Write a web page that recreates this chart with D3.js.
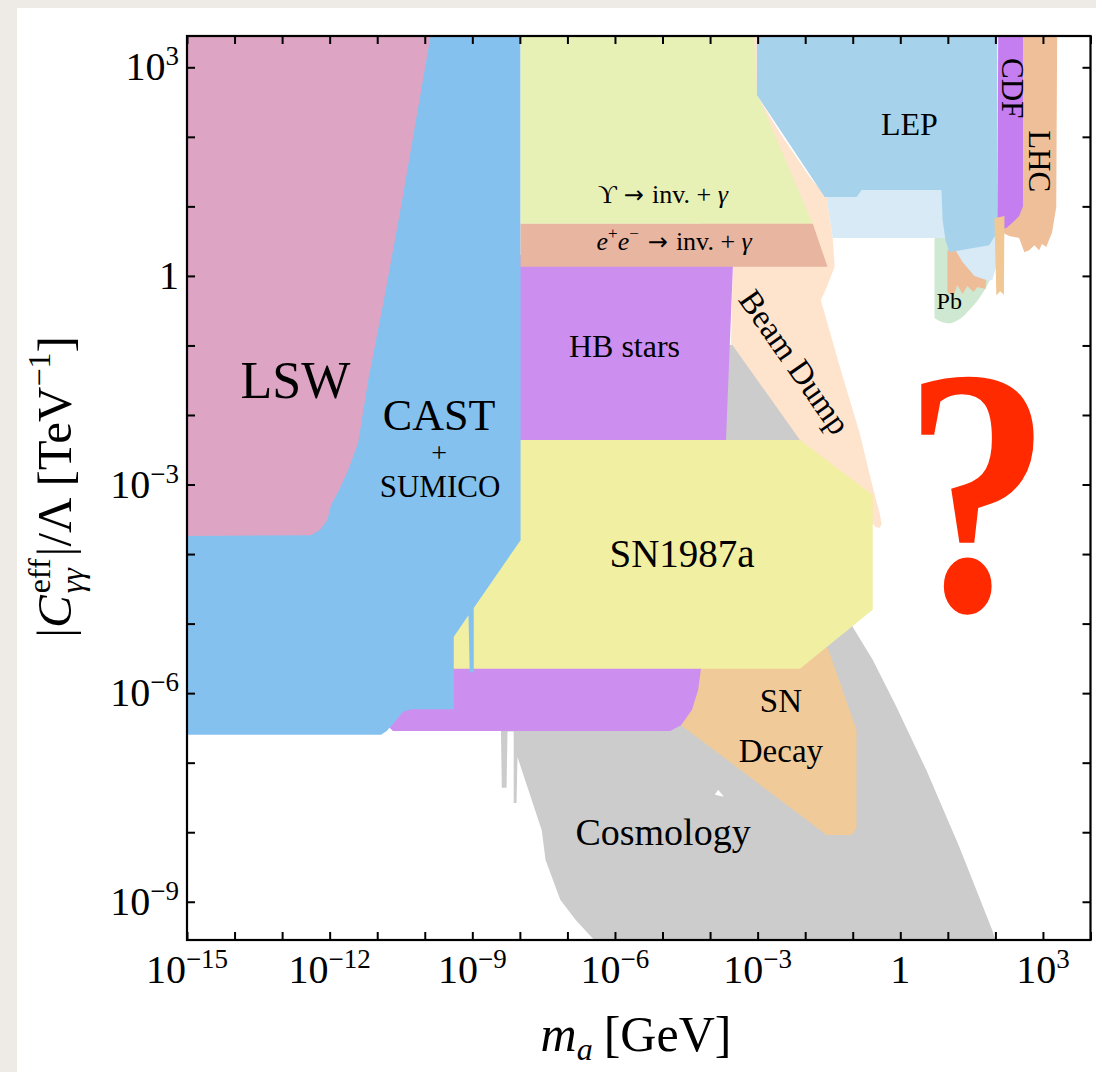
<!DOCTYPE html>
<html>
<head>
<meta charset="utf-8">
<script src="https://cdn.jsdelivr.net/npm/d3@7"></script>
<style>
  html, body { margin: 0; padding: 0; background: #eeebe6; }
  svg { display: block; }
  text { white-space: pre; }
</style>
</head>
<body>
<svg id="chart" width="1096" height="1072"></svg>
<script>
// ── Data (log10 m_a [GeV], log10 |C|/Λ [TeV^-1]) ─────────────

const xDecades = d3.range(-15, 5);          // tick every decade
const yDecades = d3.range(-9, 4);
const xLabelExps = [-15, -12, -9, -6, -3, 0, 3];
const yLabelExps = [3, 0, -3, -6, -9];

const lsw = [[-15.2,3.6],[-9.84,3.6],[-10.50,0.99],[-10.86,-0.35],[-11.19,-1.50],[-11.30,-1.97],
  [-11.40,-2.40],[-11.61,-2.79],[-11.80,-3.08],[-11.97,-3.29],[-12.05,-3.51],[-12.20,-3.65],
  [-12.39,-3.73],[-15.2,-3.74]];

const cast = [[-15.2,3.6],[-7.985,3.6],[-7.985,-3.80],[-8.97,-4.775],[-8.97,-5.70],[-9.055,-5.70],
  [-9.08,-4.88],[-9.39,-5.19],[-9.39,-6.23],[-10.29,-6.23],[-10.46,-6.27],[-10.65,-6.43],
  [-10.80,-6.544],[-10.92,-6.60],[-15.2,-6.60]];

const hbStars = [[-10.75,0.3],[-3.50,0.3],[-3.52,0.13],[-3.665,-2.36],[-4.19,-5.64],[-4.25,-5.95],
  [-4.38,-6.24],[-4.61,-6.46],[-4.84,-6.544],[-10.67,-6.544],[-10.75,-6.49]];

const sn1987a = [[-9.6,-2.36],[-2.11,-2.36],[-0.58,-3.15],[-0.58,-4.80],[-2.11,-5.65],[-9.6,-5.65]];

const snDecay = [[-4.42,-5.52],[-1.59,-5.31],[-1.51,-5.38],[-0.92,-6.53],[-0.92,-7.94],[-1.02,-8.04],
  [-1.55,-8.04],[-4.61,-6.46]];

const cosmology = [[-3.90,-0.99],[-2.11,-0.99],[-1.17,-2.79],[-1.06,-4.66],[-1.00,-5.05],[-0.58,-5.52],
  [-0.10,-6.17],[0.55,-7.11],[1.24,-8.21],[1.935,-9.41],[2.02,-9.6],[-6.37,-9.6],[-6.83,-9.26],
  [-7.15,-8.97],[-7.46,-8.40],[-7.54,-7.97],[-8.05,-6.92],[-8.07,-7.58],[-8.13,-7.58],[-8.13,-6.55],
  [-8.26,-6.55],[-8.28,-7.36],[-8.38,-7.36],[-8.40,-6.46]];
const cosmologyGap = [[-3.83,-7.39],[-3.71,-7.49],[-3.90,-7.46]];

const beamDump = [[-4.21,3.6],[-3.015,3.6],[-3.015,2.60],[-2.53,2.055],[-1.90,1.42],[-1.55,1.135],
  [-1.42,0.545],[-1.38,0.13],[-1.57,-0.20],[-1.67,-0.35],[-1.27,-1.31],[-0.855,-2.26],[-0.58,-3.035],
  [-0.435,-3.41],[-0.39,-3.57],[-0.435,-3.625],[-0.52,-3.61],[-0.645,-3.51],[-2.11,-2.36],
  [-3.56,-0.965],[-3.52,0.13],[-4.21,0.13]];

const upsilon = [[-7.985,3.6],[-3.09,3.6],[-3.08,3.45],[-3.015,2.63],[-1.84,0.75],[-7.985,0.75]];
const eeInv = [[-7.985,0.75],[-1.84,0.75],[-1.53,0.13],[-7.985,0.13]];

const pbBound = [[0.72,0.56],[0.72,-0.605],[0.80,-0.64],[0.89,-0.665],[0.98,-0.68],[1.075,-0.68],
  [1.18,-0.65],[1.285,-0.605],[1.37,-0.55],[1.45,-0.49],[1.56,-0.41],[1.66,-0.32],[1.74,-0.24],
  [1.81,-0.16],[1.90,-0.04],[1.98,0.085],[2.04,0.56]];
const lepLight = [[-1.55,1.31],[2.04,1.31],[2.04,0.20],[1.935,-0.06],[1.14,-0.13],[0.99,0.545],
  [-1.42,0.545],[-1.55,1.135]];
const lepLowOrange = [[0.99,0.37],[1.16,0.37],[1.31,0.20],[1.56,0.0],[1.81,-0.06],[1.79,-0.19],
  [1.62,-0.16],[1.54,-0.23],[1.41,-0.145],[1.31,-0.26],[1.20,-0.13],[1.12,-0.29],[0.99,-0.23]];
const lep = [[-3.015,3.6],[2.04,3.6],[2.04,0.63],[1.87,0.44],[1.03,0.34],[0.95,0.52],[0.89,0.80],
  [0.865,1.235],[-0.81,1.235],[-0.92,1.135],[-1.59,1.135],[-3.015,2.60]];
const lhc = [[2.50,3.6],[3.30,3.6],[3.28,0.99],[3.19,0.62],[3.13,0.52],[3.07,0.415],[2.98,0.46],
  [2.92,0.37],[2.82,0.44],[2.71,0.37],[2.61,0.34],[2.50,0.545],[2.29,0.575],[2.15,0.62],[2.08,0.73]];
const cdf = [[2.06,3.6],[2.58,3.6],[2.58,1.0],[2.50,0.86],[2.35,0.76],[2.25,0.70],[2.04,0.63]];
const thinStrip = [[1.98,0.83],[2.19,0.86],[2.18,-0.27],[2.10,-0.22],[2.02,-0.28]];

// ── Setup ─────────────────────────────────────────────

const W = 1096, H = 1072;
const plot = { left: 187, right: 1090.5, top: 36, bottom: 940 };
const SERIF = '"Liberation Serif", "Times New Roman", "DejaVu Serif", serif';
const ARROW_FONT = '"DejaVu Sans", sans-serif';

const x = d3.scaleLog().domain([1e-15, 1e4]).range([plot.left, plot.right]);
const y = d3.scaleLog().domain([10 ** -9.55, 10 ** 3.45]).range([plot.bottom, plot.top]);

const svg = d3.select('#chart').attr('font-family', SERIF);

// Paper + white sheet
svg.append('rect').attr('width', W).attr('height', H).attr('fill', '#eeebe6');
svg.append('rect').attr('x', 17).attr('y', 8).attr('width', W - 17).attr('height', H - 8).attr('fill', '#fff');

svg.append('defs').append('clipPath').attr('id', 'plot-clip')
  .append('rect')
  .attr('x', plot.left).attr('y', plot.top)
  .attr('width', plot.right - plot.left).attr('height', plot.bottom - plot.top);

// ── Regions ─────────────────────────────────────────────

const line = d3.line().x(d => x(10 ** d[0])).y(d => y(10 ** d[1]));

const regions = [
  { pts: cosmology,    fill: '#cccccc' },
  { pts: cosmologyGap, fill: '#ffffff' },
  { pts: beamDump,     fill: '#fee4cd' },
  { pts: snDecay,      fill: '#f0ca98' },
  { pts: hbStars,      fill: '#cc8ff0' },
  { pts: sn1987a,      fill: '#f1efa2' },
  { pts: cast,         fill: '#85c1ef' },
  { pts: lsw,          fill: '#dda5c3' },
  { pts: upsilon,      fill: '#e7f1b5' },
  { pts: eeInv,        fill: '#e8b5a0' },
  { pts: pbBound,      fill: '#cfe8d1' },
  { pts: lepLight,     fill: '#d7eaf6' },
  { pts: lepLowOrange, fill: '#eebd98' },
  { pts: lep,          fill: '#a6d3eb' },
  { pts: lhc,          fill: '#efbf99' },
  { pts: cdf,          fill: '#c57ef0' },
  { pts: thinStrip,    fill: '#f1c893' },
];

const regionLayer = svg.append('g').attr('clip-path', 'url(#plot-clip)');
regions.forEach(r => {
  regionLayer.append('path')
    .attr('d', line(r.pts) + 'Z')
    .attr('fill', r.fill);
});

// ── Rich text helper (sub/superscripts) ─────────────────

function richText(parent, parts, anchor) {
  const g = parent.append('g');
  let cx = 0, held = 0;
  parts.forEach(p => {
    const t = g.append('text')
      .attr('x', cx)
      .attr('y', p.dy || 0)
      .attr('font-size', p.size)
      .attr('font-family', p.family || null)
      .attr('font-style', p.italic ? 'italic' : null)
      .attr('fill', p.fill || '#000')
      .text(p.text);
    const w = t.node().getComputedTextLength();
    if (p.hold) { held = w; return; }
    cx += Math.max(w, held) + (p.gap || 0);
    held = 0;
  });
  const shift = anchor === 'end' ? -cx : anchor === 'middle' ? -cx / 2 : 0;
  g.attr('transform', `translate(${shift},0)`);
  return g;
}

function placeLabel(at, parts, opts = {}) {
  const g = svg.append('g')
    .attr('transform', `translate(${x(10 ** at[0])},${y(10 ** at[1])}) rotate(${opts.rotate || 0})`);
  richText(g, parts, opts.anchor || 'middle');
  return g;
}

// ── Region labels ───────────────────────────────────────

placeLabel([-12.72, -1.76], [{ text: 'LSW', size: 52 }]);
placeLabel([-9.70, -2.22],  [{ text: 'CAST', size: 44 }]);
placeLabel([-9.70, -2.68],  [{ text: '+', size: 28 }]);
placeLabel([-9.68, -3.18],  [{ text: 'SUMICO', size: 31 }]);
placeLabel([-4.99, 1.05], [
  { text: 'ϒ', size: 26, gap: 7 },
  { text: '→', size: 24, family: ARROW_FONT, gap: 8 },
  { text: 'inv. + ', size: 26 }, { text: 'γ', size: 26, italic: true }
]);
placeLabel([-4.755, 0.37], [
  { text: 'e', size: 26, italic: true }, { text: '+', size: 17, dy: -11 },
  { text: 'e', size: 26, italic: true }, { text: '−', size: 17, dy: -11, gap: 9 },
  { text: '→', size: 24, family: ARROW_FONT, gap: 8 },
  { text: 'inv. + ', size: 26 }, { text: 'γ', size: 26, italic: true }
]);
placeLabel([-5.80, -1.17], [{ text: 'HB stars', size: 32 }]);
placeLabel([-2.22, -1.24], [{ text: 'Beam Dump', size: 33, dy: 11 }], { rotate: 55 });
placeLabel([-4.59, -4.19], [{ text: 'SN1987a', size: 39 }]);
placeLabel([-2.51, -6.27], [{ text: 'SN', size: 33 }]);
placeLabel([-2.51, -6.99], [{ text: 'Decay', size: 33 }]);
placeLabel([-4.99, -8.18], [{ text: 'Cosmology', size: 38 }]);
placeLabel([0.19, 2.03],  [{ text: 'LEP', size: 32 }]);
placeLabel([2.35, 2.70],  [{ text: 'CDF', size: 31, dy: 10 }], { rotate: 90 });
placeLabel([2.92, 1.65],  [{ text: 'LHC', size: 31, dy: 10 }], { rotate: 90 });
placeLabel([1.03, -0.47], [{ text: 'Pb', size: 24 }]);

// Big question mark
svg.append('text')
  .attr('transform', `translate(${x(10 ** 1.62)},${y(10 ** -4.80)}) scale(0.84,1)`)
  .attr('text-anchor', 'middle')
  .attr('font-family', '"Liberation Serif", "Times New Roman", serif')
  .attr('font-weight', 'bold')
  .attr('font-size', 352)
  .attr('fill', '#ff2a00')
  .text('?');

// ── Frame & ticks ───────────────────────────────────────

const styleAxis = g => {
  g.select('.domain').remove();
  g.selectAll('line').attr('stroke', '#000').attr('stroke-width', 2);
};
const xt = xDecades.map(e => 10 ** e);
const yt = yDecades.map(e => 10 ** e);

svg.append('g').attr('transform', `translate(0,${plot.bottom})`)
  .call(d3.axisBottom(x).tickValues(xt).tickSize(-8).tickFormat('')).call(styleAxis);
svg.append('g').attr('transform', `translate(0,${plot.top})`)
  .call(d3.axisTop(x).tickValues(xt).tickSize(-8).tickFormat('')).call(styleAxis);
svg.append('g').attr('transform', `translate(${plot.left},0)`)
  .call(d3.axisLeft(y).tickValues(yt).tickSize(-8).tickFormat('')).call(styleAxis);
svg.append('g').attr('transform', `translate(${plot.right},0)`)
  .call(d3.axisRight(y).tickValues(yt).tickSize(-8).tickFormat('')).call(styleAxis);

svg.append('rect')
  .attr('x', plot.left).attr('y', plot.top)
  .attr('width', plot.right - plot.left).attr('height', plot.bottom - plot.top)
  .attr('fill', 'none').attr('stroke', '#000').attr('stroke-width', 2.2);

// ── Tick labels ─────────────────────────────────────────

const expText = e => (e < 0 ? '−' + (-e) : String(e));
const powParts = e => e === 0
  ? [{ text: '1', size: 40 }]
  : [{ text: '10', size: 40 }, { text: expText(e), size: 27, dy: -15 }];

xLabelExps.forEach(e => {
  const g = svg.append('g').attr('transform', `translate(${x(10 ** e)},983)`);
  richText(g, powParts(e), 'middle');
});
yLabelExps.forEach(e => {
  const g = svg.append('g').attr('transform', `translate(179,${y(10 ** e) + 13})`);
  richText(g, powParts(e), 'end');
});

// ── Axis titles ─────────────────────────────────────────

const xTitle = svg.append('g').attr('transform', 'translate(636,1051)');
richText(xTitle, [
  { text: 'm', size: 50, italic: true },
  { text: 'a', size: 32, italic: true, dy: 9, gap: 11 },
  { text: '[GeV]', size: 50 }
], 'middle');

const yTitle = svg.append('g').attr('transform', 'translate(71,487) rotate(-90)');
richText(yTitle, [
  { text: '|', size: 49 },
  { text: 'C', size: 49, italic: true, gap: 2 },
  { text: 'eff', size: 32, dy: -21, hold: true },
  { text: 'γγ', size: 32, italic: true, dy: 12, gap: 2 },
  { text: '|/Λ [TeV', size: 49 },
  { text: '−1', size: 32, dy: -21 },
  { text: ']', size: 49 }
], 'middle');
</script>
</body>
</html>
